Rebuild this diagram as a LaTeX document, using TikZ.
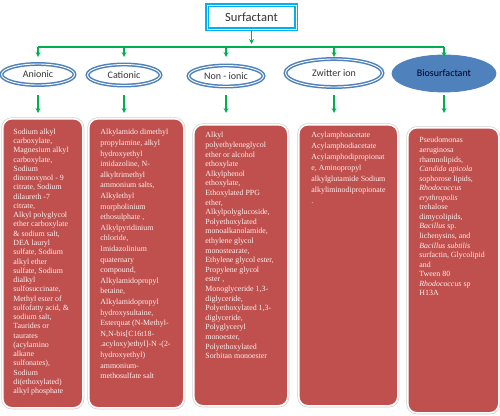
\documentclass[tikz,border=0pt]{standalone}
\usepackage{fontspec}
\setmainfont{Liberation Serif}
\newfontfamily\calibri{Carlito}
\usetikzlibrary{shapes.geometric,shadows}
\definecolor{boxred}{HTML}{C0504D}
\definecolor{ellblue}{HTML}{4F81BD}
\definecolor{arrgreen}{HTML}{00B050}
\definecolor{titlecyan}{HTML}{00B0F0}

\begin{document}
\begin{tikzpicture}[x=1pt, y=-1pt, >=stealth, thick,
	cls/.style={ellipse, draw=ellblue, double=white, double distance=0.9pt, line width=1.5pt, inner sep=0pt, font=\calibri\fontsize{10}{12}\selectfont, text=black!80},
	listbox/.style={rectangle, rounded corners=9pt, fill=boxred, draw=white, line width=1.6pt, anchor=north west, drop shadow={shadow xshift=0.8pt, shadow yshift=-1.2pt, opacity=0.35}, preaction={draw=black!18, line width=3pt}},
	listtxt/.style={anchor=north west, align=left, inner sep=0pt, text=white!92!boxred},
	arr/.style={->, arrgreen, line width=1.2pt}]
	\useasboundingbox (0,0) rectangle (500,415);
	
	% 1. title and branch bar
	\node[draw=titlecyan, double=white, double distance=1pt, line width=1.6pt, minimum width=89pt, minimum height=24pt, font=\calibri\fontsize{12.6}{14}\selectfont, text=black!80] (title) at (251.5,17) {Surfactant};
	\coordinate (bartip) at (0,44);
	\coordinate (bary) at (0,47);
	\coordinate (tipA) at (0,57);
	\coordinate (lowA) at (0,95);
	\coordinate (lowB) at (0,113);
	
	% 2. classes
	\node[cls, minimum width=73pt, minimum height=21pt] (ani) at (38,74.5) {Anionic};
	\node[cls, minimum width=73pt, minimum height=21pt] (cat) at (124,75) {Cationic};
	\node[cls, minimum width=75pt, minimum height=21pt] (non) at (226,76) {Non - ionic};
	\node[cls, minimum width=97pt, minimum height=28pt] (zwi) at (334,73) {Zwitter ion};
	\node[ellipse, fill=ellblue, draw=ellblue, minimum width=104pt, minimum height=37pt, inner sep=0pt, font=\calibri\fontsize{10}{12}\selectfont, text=black!85!blue] (bio) at (444,73.5) {Biosurfactant};
	
	\draw[arr] (title.south) -- (title.south |- bartip);
	\draw[arrgreen, line width=1.2pt] (ani |- bary) -- (bio |- bary);
	\foreach \n in {ani,cat,non,zwi,bio}{
		\draw[arr] (\n |- bary) -- (\n |- tipA);
		\draw[arr] (\n |- lowA) -- (\n |- lowB);
	}
	
	% 3. example boxes
	\node[listbox, minimum width=80pt, minimum height=289pt] (anibox) at (2,118) {};
	\node[listbox, minimum width=95pt, minimum height=289pt] (catbox) at (88,118) {};
	\node[listbox, minimum width=94pt, minimum height=281pt] (nonbox) at (193,124) {};
	\node[listbox, minimum width=99pt, minimum height=281pt] (zwibox) at (298,124) {};
	\node[listbox, minimum width=91pt, minimum height=285pt] (biobox) at (407,127) {};
	
	\node[listtxt, font=\fontsize{7.9}{9.26}\selectfont] (anitxt) at ([shift={(11,10.5)}]anibox.north west) {Sodium alkyl\\carboxylate,\\Magnesium alkyl\\carboxylate,\\Sodium\\dinonoxynol - 9\\citrate, Sodium\\dilaureth -7\\citrate,\\Alkyl polyglycol\\ether carboxylate\\\& sodium salt,\\DEA lauryl\\sulfate, Sodium\\alkyl ether\\sulfate, Sodium\\dialkyl\\sulfosuccinate,\\Methyl ester of\\sulfofatty acid, \&\\sodium salt,\\Taurides or\\taurates\\(acylamino\\alkane\\sulfonates),\\Sodium\\di(ethoxylated)\\alkyl phosphate};
	\node[listtxt, font=\fontsize{7.9}{10.6}\selectfont] (cattxt) at ([shift={(12,11)}]catbox.north west) {Alkylamido dimethyl\\propylamine, alkyl\\hydroxyethyl\\imidazoline, N-\\alkyltrimethyl\\ammonium salts,\\Alkylethyl\\morpholinium\\ethosulphate ,\\Alkylpyridinium\\chloride,\\Imidazolinium\\quaternary\\compound,\\Alkylamidopropyl\\betaine,\\Alkylamidopropyl\\hydroxysultaine,\\Esterquat (N-Methyl-\\N,N-bis[C16t18-\\.acyloxy)ethyl]-N -(2-\\hydroxyethyl)\\ammonium-\\methosulfate salt};
	\node[listtxt, font=\fontsize{7.9}{9.6}\selectfont] (nontxt) at ([shift={(12,8)}]nonbox.north west) {Alkyl\\polyethyleneglycol\\ether or alcohol\\ethoxylate\\Alkylphenol\\ethoxylate,\\Ethoxylated PPG\\ether,\\Alkylpolyglucoside,\\Polyethoxylated\\monoalkanolamide,\\ethylene glycol\\monostearate,\\Ethylene glycol ester,\\Propylene glycol\\ester ,\\Monoglyceride 1,3-\\diglyceride,\\Polyethoxylated 1,3-\\diglyceride,\\Polyglyceryl\\monoester,\\Polyethoxylated\\Sorbitan monoester};
	\node[listtxt, font=\fontsize{7.9}{11}\selectfont] (zwitxt) at ([shift={(13,8)}]zwibox.north west) {Acylamphoacetate\\Acylamphodiacetate\\Acylamphodipropionat\\e, Aminopropyl\\alkylglutamide Sodium\\alkyliminodipropionate\\.};
	\node[listtxt, font=\fontsize{7.9}{9.56}\selectfont] (biotxt) at ([shift={(12,10)}]biobox.north west) {Pseudomonas\\aeruginosa\\rhamnolipids,\\\textit{Candida apicola}\\sophorose lipids,\\\textit{Rhodococcus}\\\textit{erythropolis}\\trehalose\\dimycolipids,\\\textit{Bacillus} sp.\\lichenysins, and\\\textit{Bacillus subtilis}\\surfactin, Glycolipid\\and\\Tween 80\\\textit{Rhodococcus} sp\\H13A};
\end{tikzpicture}
\end{document}
